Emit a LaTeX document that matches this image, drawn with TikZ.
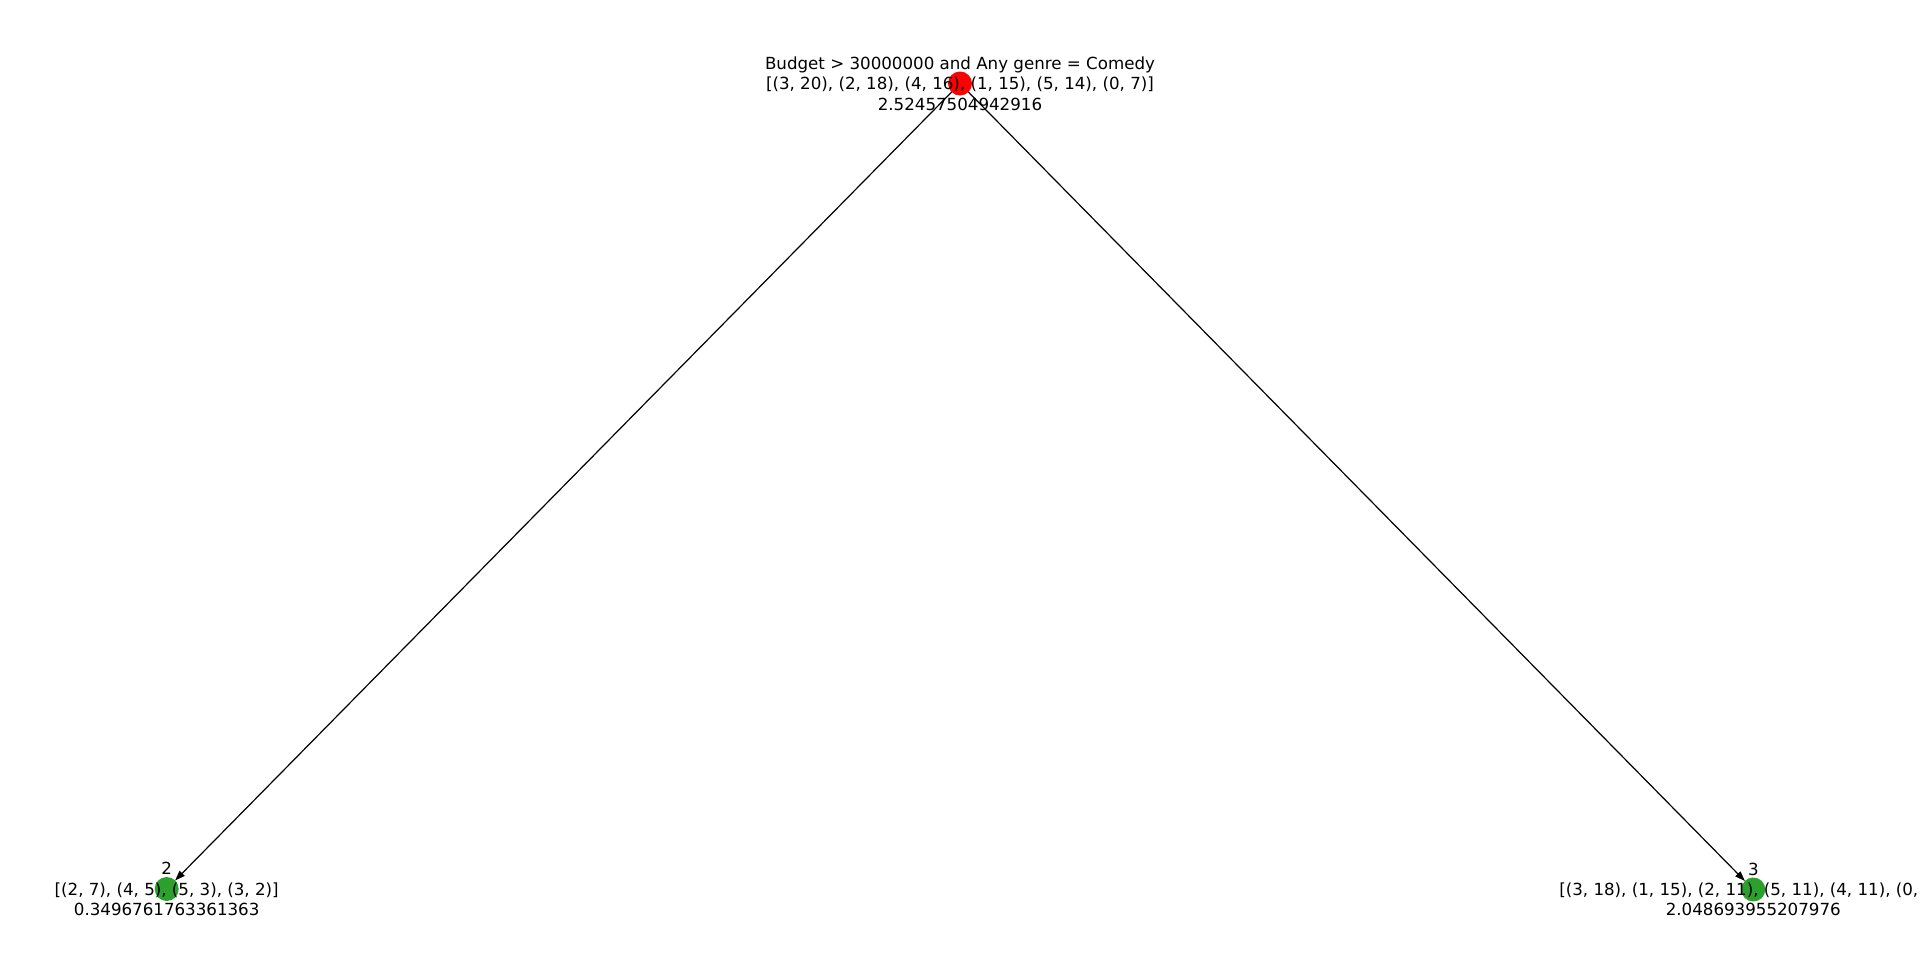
\documentclass[tikz,border=0pt]{standalone}
\usepackage{fontspec}
\setmainfont{DejaVu Sans}
\usetikzlibrary{arrows.meta}
\definecolor{tabgreen}{HTML}{2CA02C}
\tikzset{
  vert/.style={circle, minimum size=24pt, inner sep=0pt, outer sep=0pt},
  lbl/.style={align=center, inner sep=0pt, font=\fontsize{16.67pt}{20.3pt}\selectfont},
  edge/.style={line width=1.2pt, -{Triangle[length=10pt,width=7pt]}}
}
\begin{document}
\begin{tikzpicture}[x=1pt,y=-1pt]
\useasboundingbox (0,0) rectangle (1920,975);
\node[vert, fill=red] (root) at (960,83.5) {};
\node[vert, fill=tabgreen] (left) at (166.7,889) {};
\node[vert, fill=tabgreen] (right) at (1753.3,889.5) {};
\draw[edge] (root) -- (left);
\draw[edge] (root) -- (right);
\node[lbl] (rootlbl) at (root.center) {Budget > 30000000 and Any genre = Comedy\\\relax[(3, 20), (2, 18), (4, 16), (1, 15), (5, 14), (0, 7)]\\2.52457504942916};
\node[lbl] (leftlbl) at (left.center) {2\\\relax[(2, 7), (4, 5), (5, 3), (3, 2)]\\0.3496761763361363};
\node[lbl] (rightlbl) at (right.center) {3\\\relax[(3, 18), (1, 15), (2, 11), (5, 11), (4, 11), (0, 7)]\\2.048693955207976};
\end{tikzpicture}
\end{document}
